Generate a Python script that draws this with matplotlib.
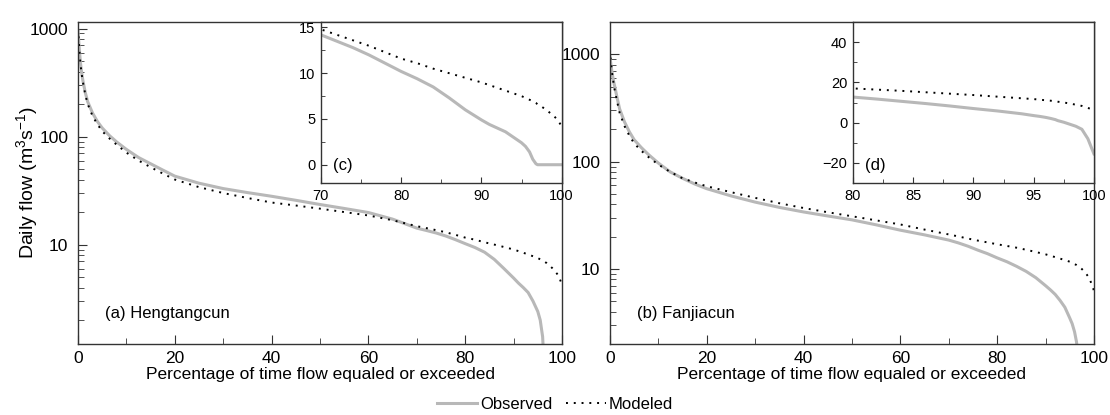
import matplotlib.pyplot as plt
from matplotlib.ticker import MultipleLocator, LogLocator, NullFormatter

plt.rcParams['font.family'] = ['Liberation Sans', 'DejaVu Sans']
plt.rcParams['mathtext.default'] = 'regular'

# exceedance percentage (x) shared by all curves
pct = [0, 0.1, 0.2, 0.35, 0.5, 0.75, 1, 1.5, 2, 3,
       4, 5, 6.5, 8, 10, 12.5, 15, 17.5, 20, 25,
       30, 35, 40, 45, 50, 55, 60, 65, 70, 72,
       74, 76, 78, 80, 82, 84, 86, 88, 90, 91,
       92, 93, 94, 95, 95.5, 96, 96.4, 96.8, 97, 97.5,
       98, 98.5, 99, 99.5, 100]

# Hengtangcun daily flow (m3/s)
obs_heng = [950, 820, 700, 580, 480, 390, 330, 255, 210, 165,
            138, 120, 102, 89, 76, 64, 56, 49, 43, 37,
            33, 30.3, 28, 25.7, 23.5, 21.6, 19.8, 17.2, 14.2, 13.5,
            12.8, 12.0, 11.1, 10.2, 9.4, 8.5, 7.3, 6.0, 4.9, 4.4,
            4.0, 3.6, 3.0, 2.4, 2.0, 1.4, 0.6, 0.1, 0, 0,
            0, 0, 0, 0, 0]
mod_heng = [1000, 850, 720, 580, 470, 380, 320, 245, 200, 155,
            130, 112, 96, 84, 71, 60, 52, 45.5, 40, 34,
            30, 27, 24.5, 23, 21.5, 20, 18.6, 16.8, 14.8, 14.2,
            13.6, 13.0, 12.3, 11.6, 11.1, 10.5, 10.0, 9.5, 9.0, 8.7,
            8.4, 8.1, 7.8, 7.5, 7.3, 7.1, 6.95, 6.75, 6.6, 6.35,
            6.05, 5.7, 5.35, 4.9, 4.2]

# Fanjiacun daily flow (m3/s)
obs_fanj = [950, 880, 800, 720, 650, 560, 500, 390, 310, 235,
            190, 160, 135, 116, 97, 80, 70, 62, 56, 48,
            42, 37.5, 34, 31.2, 28.7, 25.8, 23, 20.8, 18.6, 17.5,
            16.3, 15.0, 13.9, 12.7, 11.7, 10.6, 9.5, 8.3, 7.0, 6.4,
            5.8, 5.1, 4.4, 3.5, 3.1, 2.6, 2.1, 1.5, 1.0, 0.2,
            -0.8, -1.8, -3.3, -8.0, -15.5]
mod_fanj = [1100, 960, 850, 740, 640, 540, 460, 360, 285, 215,
            175, 148, 126, 110, 94, 80, 70, 64, 59, 52,
            46, 41, 37, 33.8, 31, 28.4, 26, 23.3, 21, 20.1,
            19.2, 18.4, 17.7, 17.0, 16.4, 15.8, 15.1, 14.4, 13.7, 13.3,
            12.9, 12.5, 12.1, 11.7, 11.4, 11.1, 10.9, 10.6, 10.4, 10.0,
            9.5, 8.9, 8.3, 7.3, 6.3]

GRAY = '#b8b8b8'
SPINE = '#333333'
DOTS = (0, (1, 3))


def draw_lines(ax, obs, mod):
    l1, = ax.plot(pct, obs, color=GRAY, lw=2.2, label='Observed')
    l2, = ax.plot(pct, mod, color='black', lw=1.4, linestyle=DOTS, label='Modeled')
    return l1, l2


def frame(ax):
    for s in ax.spines.values():
        s.set_color(SPINE)
        s.set_linewidth(1.0)


def main_panel(ax, obs, mod, ylim, label):
    handles = draw_lines(ax, obs, mod)
    ax.set_yscale('log')
    ax.set_xlim(0, 100)
    ax.set_ylim(*ylim)
    ax.set_xticks([0, 20, 40, 60, 80, 100])
    ax.xaxis.set_minor_locator(MultipleLocator(10))
    ax.set_yticks([10, 100, 1000], labels=['10', '100', '1000'])
    ax.yaxis.set_minor_locator(LogLocator(base=10, subs=range(2, 10)))
    ax.yaxis.set_minor_formatter(NullFormatter())
    ax.tick_params(which='both', direction='in', top=False, right=False, color=SPINE)
    ax.tick_params(which='major', length=6.5, labelsize=12.5)
    ax.tick_params(which='minor', length=4)
    ax.tick_params(axis='x', pad=5)
    ax.tick_params(axis='y', pad=7)
    ax.set_xlabel('Percentage of time flow equaled or exceeded', fontsize=12.5, labelpad=1)
    ax.text(0.055, 0.096, label, transform=ax.transAxes, fontsize=12, va='center')
    frame(ax)
    return handles


def inset(ax, obs, mod, xlim, ylim, xmaj, xmin, ymaj, ymin, label):
    draw_lines(ax, obs, mod)
    ax.set_xlim(*xlim)
    ax.set_ylim(*ylim)
    ax.xaxis.set_major_locator(MultipleLocator(xmaj))
    ax.xaxis.set_minor_locator(MultipleLocator(xmin))
    ax.yaxis.set_major_locator(MultipleLocator(ymaj))
    ax.yaxis.set_minor_locator(MultipleLocator(ymin))
    ax.tick_params(which='both', direction='in', top=False, right=False, color=SPINE,
                   labelsize=10.5, pad=4)
    ax.tick_params(which='major', length=4.5)
    ax.tick_params(which='minor', length=3)
    ax.text(0.05, 0.11, label, transform=ax.transAxes, fontsize=12, va='center')
    frame(ax)


fig = plt.figure(figsize=(11.1, 4.15), dpi=100)

ax_a = fig.add_axes([0.0703, 0.171, 0.436, 0.776])
ax_b = fig.add_axes([0.5495, 0.171, 0.436, 0.776])
handles = main_panel(ax_a, obs_heng, mod_heng, (1.2, 1150), '(a) Hengtangcun')
main_panel(ax_b, obs_fanj, mod_fanj, (2, 2000), '(b) Fanjiacun')

ax_c = fig.add_axes([0.289, 0.559, 0.217, 0.388])
inset(ax_c, obs_heng, mod_heng, (70, 100), (-2, 15.6), 10, 5, 5, 2.5, '(c)')
ax_d = fig.add_axes([0.7685, 0.559, 0.217, 0.388])
inset(ax_d, obs_fanj, mod_fanj, (80, 100), (-30, 50), 5, 2.5, 20, 10, '(d)')

fig.text(0.024, 0.56, 'Daily flow (m$^3$s$^{-1}$)', rotation=90, fontsize=14,
         ha='center', va='center')

fig.legend(handles, ['Observed', 'Modeled'], loc='center', bbox_to_anchor=(0.5, 0.025),
           ncol=2, frameon=False, fontsize=12, handlelength=2.4, handletextpad=0.2,
           columnspacing=0.8)

fig.savefig('out.png', dpi=100)
